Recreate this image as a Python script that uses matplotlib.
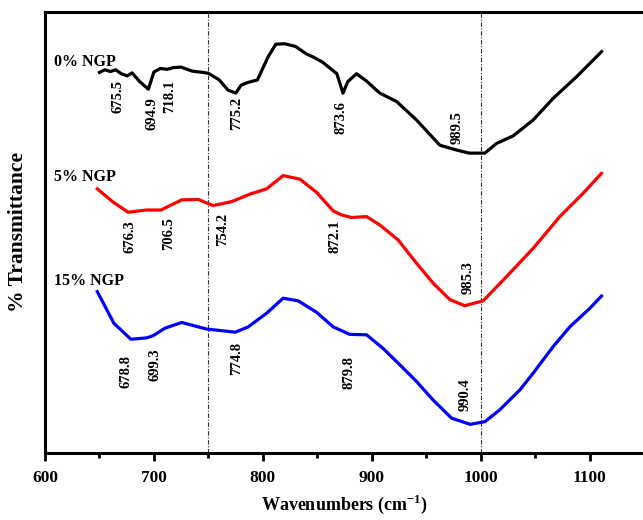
import matplotlib
matplotlib.use("Agg")
import matplotlib.pyplot as plt
from matplotlib.ticker import MultipleLocator

plt.rcParams['font.family'] = ['Liberation Serif', 'DejaVu Serif']
plt.rcParams['mathtext.fontset'] = 'custom'
plt.rcParams['mathtext.rm'] = 'Liberation Serif'
plt.rcParams['mathtext.bf'] = 'Liberation Serif:bold'

# FTIR spectra (wavenumber in cm^-1, transmittance in arbitrary offset units)
wn_0 = [650, 655, 660, 665, 670, 675.5, 680, 687, 694.9, 700, 706, 712, 718.1,
        725, 735, 745, 750, 760, 768, 775.2, 780, 786, 795, 805, 812, 820, 830,
        840, 847, 855, 862, 868, 873.6, 878, 886, 895, 902, 907.5, 922.8, 941.2,
        962.5, 977.9, 989.5, 1003.9, 1014.6, 1029.8, 1048.2, 1066.5, 1088, 1111]
t_0 = [86.3, 86.9, 86.5, 86.9, 86.0, 85.5, 86.2, 84.2, 82.5, 86.4, 87.2, 87.0, 87.4,
       87.5, 86.6, 86.3, 86.1, 84.6, 82.3, 81.6, 83.4, 84.0, 84.6, 89.9, 92.7, 92.8, 92.2,
       90.5, 89.7, 88.6, 87.2, 86.0, 81.6, 84.2, 86.0, 84.4, 82.8, 81.6, 79.7, 75.5,
       69.8, 68.7, 68.0, 68.0, 70.2, 71.9, 75.5, 80.4, 85.3, 91.0]

wn_5 = [648, 662, 676.3, 693.3, 706.5, 725.5, 740.7, 754.2, 771.4, 788.2, 803.5,
        818.7, 834, 849.4, 864.6, 872.1, 881.5, 895.3, 907.5, 924.3, 941.2, 956.4,
        971.7, 985.3, 1002.3, 1023.8, 1048.2, 1072.7, 1094.1, 1111]
t_5 = [59.9, 57.0, 54.6, 55.1, 55.1, 57.4, 57.5, 56.1, 57.0, 58.7, 59.9,
       62.9, 62.1, 59.1, 54.9, 54.0, 53.4, 53.6, 51.7, 48.3, 43.0, 38.5,
       34.8, 33.4, 34.5, 40.0, 46.4, 53.6, 58.9, 63.4]

wn_15 = [648, 663.3, 678.8, 693.3, 699.3, 710.1, 725.5, 748.4, 774.8, 786.6, 803.5,
         818.7, 832.5, 849.4, 864.6, 879.8, 895.3, 910.5, 925.8, 941.2, 956.4,
         973.3, 990.4, 1003.9, 1017.6, 1036, 1048.2, 1066.5, 1081.9, 1100.2, 1111]
t_15 = [36.6, 29.4, 25.8, 26.1, 26.6, 28.3, 29.6, 28.1, 27.4, 28.6, 31.7,
        35.1, 34.5, 31.9, 28.6, 26.9, 26.8, 23.7, 20.0, 16.2, 12.0,
        7.9, 6.5, 7.1, 9.8, 14.3, 18.1, 24.1, 28.6, 32.8, 35.6]

# Peak annotations: stated wavenumber, label anchor (wavenumber, transmittance)
peaks_0 = ["675.5", "694.9", "718.1", "775.2", "873.6", "989.5"]
peaks_0_x = [667.0, 697.9, 714.7, 775.9, 871.7, 978.5]
peaks_0_y = [84.5, 80.7, 84.5, 80.7, 79.8, 77.6]

peaks_5 = ["676.3", "706.5", "754.2", "872.1", "985.3"]
peaks_5_x = [678.0, 713.3, 762.8, 866.2, 988.5]
peaks_5_y = [52.8, 53.5, 54.4, 52.8, 43.5]

peaks_15 = ["678.8", "699.3", "774.8", "879.8", "990.4"]
peaks_15_x = [674.3, 701.0, 775.9, 879.3, 985.5]
peaks_15_y = [22.2, 23.8, 25.2, 22.0, 17.0]

series_names = ["0% NGP", "5% NGP", "15% NGP"]
series_name_y = [88.7, 62.6, 39.0]
series_colors = ["black", "red", "blue"]

ref_lines = [750, 1000]

fig = plt.figure(figsize=(6.43, 5.2), dpi=100)
ax = fig.add_axes([45 / 643, 67 / 520, 599 / 643, 441 / 520])

series = [(wn_0, t_0, peaks_0, peaks_0_x, peaks_0_y),
          (wn_5, t_5, peaks_5, peaks_5_x, peaks_5_y),
          (wn_15, t_15, peaks_15, peaks_15_x, peaks_15_y)]

for x in ref_lines:
    ax.axvline(x, color='#333333', lw=0.8, ls=(0, (4, 1.5, 1, 1.5)), zorder=1)

for (wx, ty, labels, lx, ly), name, ny, col in zip(series, series_names,
                                                   series_name_y, series_colors):
    ax.plot(wx, ty, color=col, lw=2.3, solid_joinstyle='round', zorder=3)
    for lab, px, py in zip(labels, lx, ly):
        ax.text(px, py, lab, rotation=90, ha='center', va='top',
                fontsize=10.5, fontweight='bold', color='black', zorder=4)
    ax.text(608.5, ny, name, ha='left', va='center', fontsize=11.5,
            fontweight='bold', color='black')

ax.set_xlim(600, 1150)
ax.set_ylim(0, 100)
ax.xaxis.set_major_locator(MultipleLocator(100))
ax.xaxis.set_minor_locator(MultipleLocator(50))
ax.tick_params(axis='x', which='major', direction='out', length=6, width=2,
               pad=6, labelsize=12.5)
ax.tick_params(axis='x', which='minor', direction='out', length=3.5, width=2)
ax.tick_params(axis='y', left=False, labelleft=False)
for lab in ax.get_xticklabels():
    lab.set_fontweight('bold')

for side in ['left', 'bottom', 'top']:
    ax.spines[side].set_linewidth(2.2)
ax.spines['right'].set_color('#bbbbbb')
ax.spines['right'].set_linewidth(0.8)

ax.set_xlabel(r'Wavenumbers (cm$^{\mathbf{-1}}$)', fontsize=13,
              fontweight='bold', labelpad=5)
ax.set_ylabel('% Transmittance', fontsize=15.5, fontweight='bold', labelpad=12)

fig.savefig('out.png', dpi=100)
